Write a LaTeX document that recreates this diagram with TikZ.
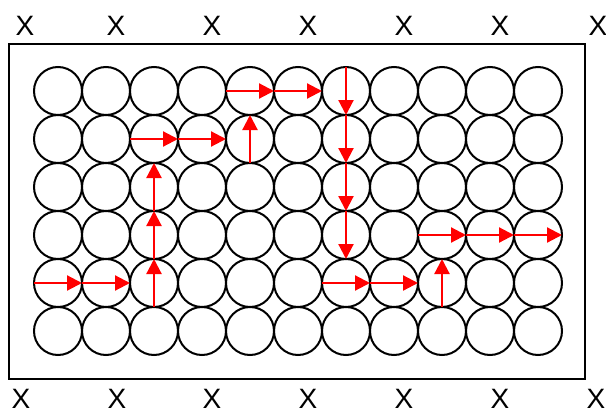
\documentclass[tikz,border=0pt]{standalone}
\usepackage{fontspec}
\setmainfont{Liberation Sans}
\usetikzlibrary{arrows.meta}
\begin{document}
\begin{tikzpicture}[x=1pt,y=-1pt,
  cell/.style={circle,draw=black,line width=2pt,minimum size=48pt,inner sep=0pt,outer sep=0pt},
  mv/.style={draw=red,line width=2.2pt,-{Triangle[length=15pt,width=15pt]}},
  xlab/.style={font=\fontsize{28}{30}\selectfont,inner sep=0pt,anchor=center}]
\useasboundingbox (0,0) rectangle (606,410);
\draw[line width=2pt] (9.3,44.3) rectangle (585.3,379.3);
\foreach \i in {0,...,10}{
  \foreach \j in {0,...,5}{
    \node[cell] (c-\i-\j) at (58+48*\i,91+48*\j) {};
  }
}
% X labels
\node[xlab] (t0) at (25,26) {X};
\node[xlab] (t1) at (116,26) {X};
\node[xlab] (t2) at (212,26) {X};
\node[xlab] (t3) at (308,26) {X};
\node[xlab] (t4) at (404,26) {X};
\node[xlab] (t5) at (500,26) {X};
\node[xlab] (t6) at (598,26) {X};
\node[xlab] (b0) at (21,399) {X};
\node[xlab] (b1) at (117,399) {X};
\node[xlab] (b2) at (212,399) {X};
\node[xlab] (b3) at (308,399) {X};
\node[xlab] (b4) at (404,399) {X};
\node[xlab] (b5) at (500,399) {X};
\node[xlab] (b6) at (596,399) {X};
% arrows
\foreach \i/\j in {0/4,1/4,2/1,3/1,4/0,5/0,6/4,7/4,8/3,9/3,10/3}
  \draw[mv] (c-\i-\j.west) -- (c-\i-\j.east);
\foreach \i/\j in {2/4,2/3,2/2,4/1,8/4}
  \draw[mv] (c-\i-\j.south) -- (c-\i-\j.north);
\foreach \i/\j in {6/0,6/1,6/2,6/3}
  \draw[mv] (c-\i-\j.north) -- (c-\i-\j.south);
\end{tikzpicture}
\end{document}
